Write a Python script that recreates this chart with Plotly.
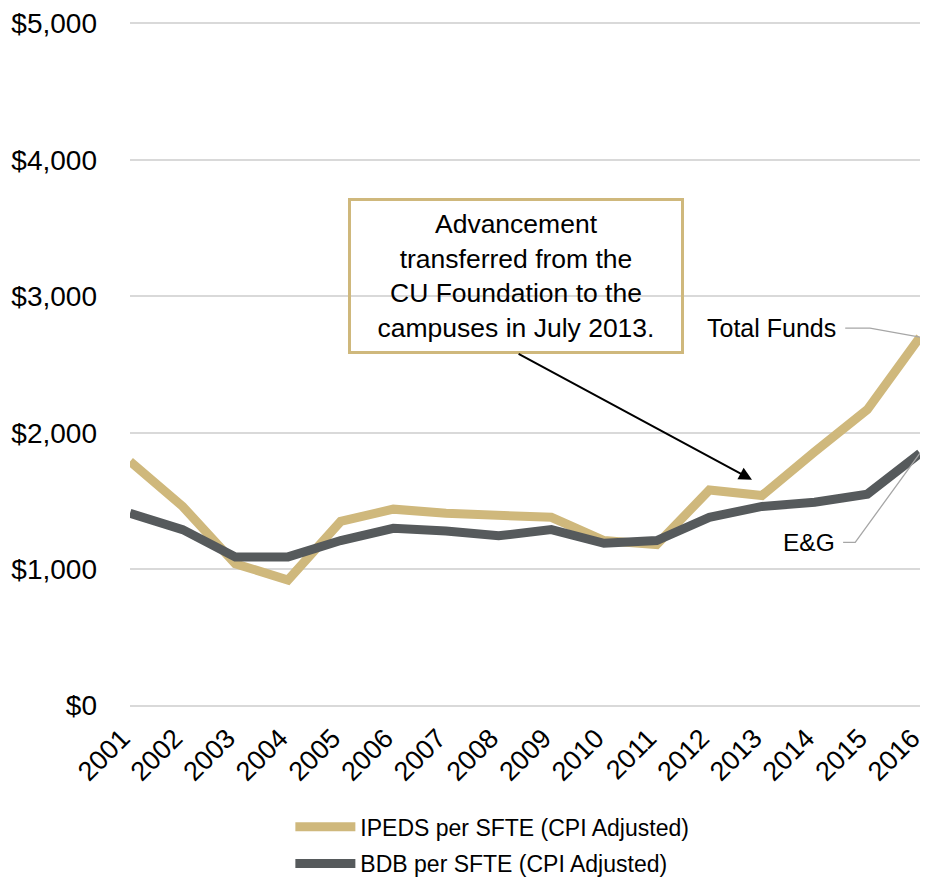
import plotly.graph_objects as go

years = list(range(2001, 2017))
ipeds = [1790, 1460, 1040, 920, 1350, 1440, 1410, 1390, 1380, 1210, 1180, 1580, 1540, 1860, 2170, 2700]
bdb = [1410, 1290, 1090, 1090, 1210, 1300, 1280, 1245, 1290, 1190, 1210, 1380, 1460, 1490, 1550, 1850]
ytick_vals = [0, 1000, 2000, 3000, 4000, 5000]
ytick_text = ["$0", "$1,000", "$2,000", "$3,000", "$4,000", "$5,000"]

GOLD = "#CFB87C"
DARK = "#565A5C"
FONT = "Liberation Sans, Arial, sans-serif"

fig = go.Figure()
fig.add_trace(go.Scatter(x=years, y=ipeds, mode="lines", name="IPEDS per SFTE (CPI Adjusted)",
                         line=dict(color=GOLD, width=9), legend="legend", showlegend=True))
fig.add_trace(go.Scatter(x=years, y=bdb, mode="lines", name="BDB per SFTE (CPI Adjusted)",
                         line=dict(color=DARK, width=9), legend="legend2", showlegend=True))

# page body has an 8px margin, so figure is 8px smaller and margins shifted
fig.update_layout(
    width=920, height=872,
    margin=dict(l=122, r=8, t=14, b=173),
    plot_bgcolor="white", paper_bgcolor="white",
    font=dict(family=FONT, color="black"),
    showlegend=True,
    legend=dict(x=0.203, xref="paper", y=0.061, yref="container", xanchor="left", yanchor="middle",
                orientation="v", font=dict(size=23, color="black"), itemwidth=60,
                bgcolor="rgba(0,0,0,0)"),
    legend2=dict(x=0.203, xref="paper", y=0.019, yref="container", xanchor="left", yanchor="middle",
                 orientation="v", font=dict(size=23, color="black"), itemwidth=60,
                 bgcolor="rgba(0,0,0,0)"),
)
fig.update_xaxes(range=[2001, 2016], tickmode="array", tickvals=years, ticktext=[str(y) for y in years],
                 tickangle=-45, tickfont=dict(size=27, color="black"), showgrid=False,
                 showline=False, zeroline=False, automargin=False, ticklabeloverflow="allow",
                 ticklabelstandoff=9, ticklabelshift=-8)
fig.update_yaxes(range=[-10, 5010], tickmode="array", tickvals=ytick_vals, ticktext=ytick_text,
                 tickfont=dict(size=28, color="black"), showgrid=True, gridcolor="#d9d9d9",
                 gridwidth=1.5, zeroline=False, showline=False, ticklabelstandoff=32,
                 automargin=False)

# Text box annotation
fig.add_annotation(x=2008.32, y=3150, xref="x", yref="y",
                   text="Advancement<br>transferred from the<br>CU Foundation to the<br>campuses in July 2013.",
                   showarrow=False, font=dict(size=26.5, color="black", family=FONT),
                   align="center", bordercolor=GOLD, borderwidth=3, bgcolor="rgba(0,0,0,0)",
                   width=330, height=150, borderpad=0)
# Arrow
fig.add_annotation(x=2012.81, y=1656, xref="x", yref="y", ax=2008.35, ay=2584,
                   axref="x", ayref="y", text="", showarrow=True, arrowhead=2,
                   arrowsize=1.3, arrowwidth=2, arrowcolor="black")

# Series labels with leader lines
fig.add_annotation(x=2014.45, y=2766, xref="x", yref="y", text="Total Funds", showarrow=False,
                   xanchor="right", yanchor="middle", font=dict(size=25, color="black", family=FONT))
fig.add_annotation(x=2014.42, y=1197, xref="x", yref="y", text="E&G", showarrow=False,
                   xanchor="right", yanchor="middle", font=dict(size=24.5, color="black", family=FONT))
fig.add_shape(type="path", xref="x", yref="y",
              path=f"M 2014.58 2766 L 2015.05 2766 L {years[-1]} {ipeds[-1]}",
              line=dict(color="#a6a6a6", width=1.3))
fig.add_shape(type="path", xref="x", yref="y",
              path=f"M 2014.54 1197 L 2014.77 1197 L {years[-1]} {bdb[-1]}",
              line=dict(color="#a6a6a6", width=1.3))

fig.write_html("out.html")
